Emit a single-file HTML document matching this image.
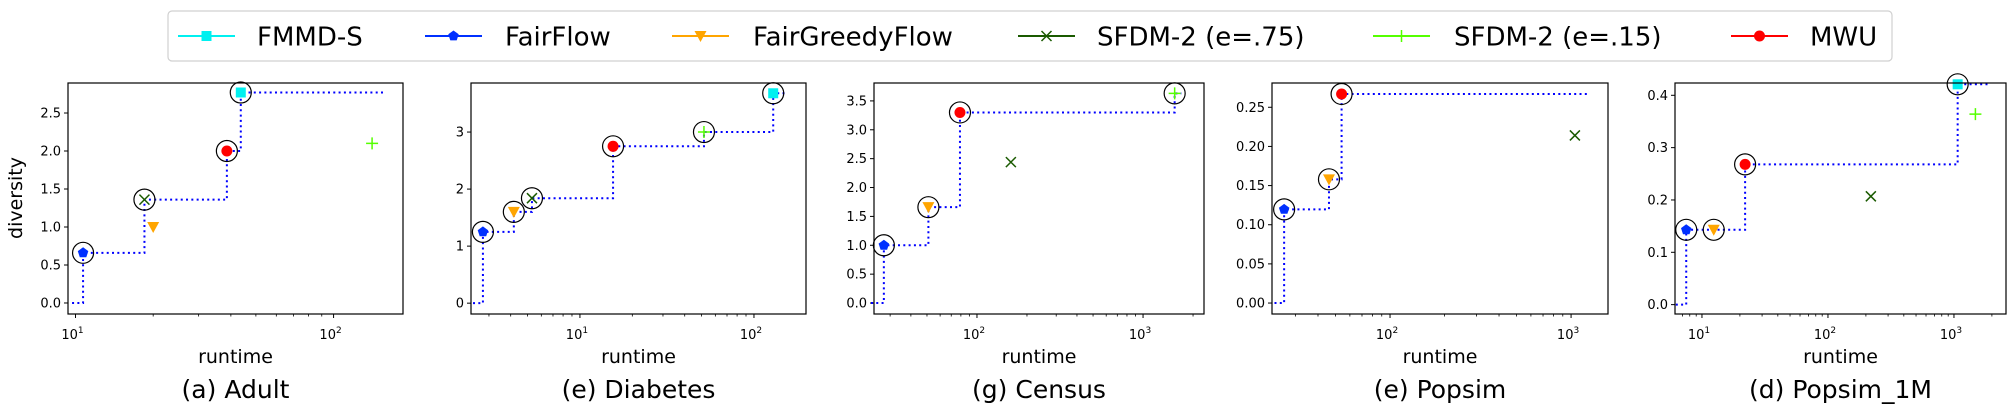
<!DOCTYPE html>
<html><head><meta charset="utf-8">
<style>
html,body{margin:0;padding:0;background:#fff;}
svg{display:block;font-family:"DejaVu Sans","Liberation Sans",sans-serif;}
</style></head>
<body>
<svg id="chart" width="2014" height="415" viewBox="0 0 2014 415" xmlns="http://www.w3.org/2000/svg">
<g id="legend">
  <rect x="168" y="11" width="1724" height="50" rx="4" fill="#fff" stroke="#d0d0d0" stroke-width="1.2"/>
</g>
</svg>
<script>
const methods = ["FMMD-S","FairFlow","FairGreedyFlow","SFDM-2 (e=.75)","SFDM-2 (e=.15)","MWU"];
const colors = ["#00f0f0","#0030ff","#ffa500","#1a5a00","#55ff00","#ff0000"];
const titles = ["(a) Adult","(e) Diabetes","(g) Census","(e) Popsim","(d) Popsim_1M"];
// runtime per method per panel (null = not shown)
const runtimeAdult    = [43.7, 10.7, 20, 18.5, 141, 38.6];
const diversityAdult  = [2.77, 0.66, 1.0, 1.36, 2.1, 2.0];
const runtimeDiab     = [129, 2.77, 4.17, 5.3, 51.6, 15.5];
const diversityDiab   = [3.68, 1.25, 1.6, 1.84, 3.0, 2.75];
const runtimeCensus   = [null, 27.5, 51, 160, 1550, 79];
const diversityCensus = [null, 1.0, 1.66, 2.44, 3.63, 3.3];
const runtimePop      = [null, 26, 46, 1050, null, 54];
const diversityPop    = [null, 0.1196, 0.158, 0.214, null, 0.267];
const runtimePop1M    = [1070, 7.5, 12.4, 219, 1480, 22];
const diversityPop1M  = [0.421, 0.143, 0.143, 0.207, 0.364, 0.268];
// indices of circled frontier points, in runtime order
const frontierAdult  = [1,3,5,0];
const frontierDiab   = [1,2,3,5,4,0];
const frontierCensus = [1,2,5,4];
const frontierPop    = [1,2,5];
const frontierPop1M  = [1,2,5,0];
const lineStartEnd = [[9.7,160],[2.43,152],[23,1700],[23,1230],[6.2,1860]];
const yTicksAll = [[0,0.5,1,1.5,2,2.5],[0,1,2,3],[0,0.5,1,1.5,2,2.5,3,3.5],[0,0.05,0.1,0.15,0.2,0.25],[0,0.1,0.2,0.3,0.4]];
const yTickDigits = [1,0,1,2,1];
const xTickExps = [[1,2],[1,2],[2,3],[2,3],[1,2,3]];

const panels = [
 {L:68,R:403,xmin:0.971,xmax:2.269,ymin:-0.145,ymax:2.895,rt:runtimeAdult,dv:diversityAdult,fr:frontierAdult,slug:"adult"},
 {L:471,R:806,xmin:0.374,xmax:2.299,ymin:-0.19,ymax:3.86,rt:runtimeDiab,dv:diversityDiab,fr:frontierDiab,slug:"diabetes"},
 {L:874,R:1204,xmin:1.380,xmax:3.367,ymin:-0.19,ymax:3.81,rt:runtimeCensus,dv:diversityCensus,fr:frontierCensus,slug:"census"},
 {L:1272,R:1608,xmin:1.348,xmax:3.204,ymin:-0.014,ymax:0.281,rt:runtimePop,dv:diversityPop,fr:frontierPop,slug:"popsim"},
 {L:1675,R:2006,xmin:0.786,xmax:3.413,ymin:-0.0179,ymax:0.4235,rt:runtimePop1M,dv:diversityPop1M,fr:frontierPop1M,slug:"popsim-1m"}
];
const T=83,B=314;
const NS="http://www.w3.org/2000/svg";
const svg=document.getElementById('chart');
function mk(tag,attrs,parent){const e=document.createElementNS(NS,tag);for(const k in attrs)e.setAttribute(k,attrs[k]);(parent||svg).appendChild(e);return e;}

function marker(i,cx,cy,parent){
  const c=colors[i];let e;
  if(i===0){e=mk('rect',{x:cx-5,y:cy-5,width:10,height:10,fill:c},parent);}
  else if(i===1){let p=[];for(let k=0;k<5;k++){const a=-Math.PI/2+k*2*Math.PI/5;p.push((cx+5.5*Math.cos(a)).toFixed(1)+','+(cy+5.5*Math.sin(a)).toFixed(1));}e=mk('polygon',{points:p.join(' '),fill:c},parent);}
  else if(i===2){e=mk('polygon',{points:`${cx-6},${cy-5} ${cx+6},${cy-5} ${cx},${cy+6}`,fill:c},parent);}
  else if(i===3){e=mk('path',{d:`M${cx-5},${cy-5}L${cx+5},${cy+5}M${cx-5},${cy+5}L${cx+5},${cy-5}`,stroke:c,'stroke-width':1.5,fill:'none'},parent);}
  else if(i===4){e=mk('path',{d:`M${cx-6},${cy}L${cx+6},${cy}M${cx},${cy-6}L${cx},${cy+6}`,stroke:c,'stroke-width':1.5,fill:'none'},parent);}
  else {e=mk('circle',{cx:cx,cy:cy,r:5.5,fill:c},parent);}
  return e;
}

panels.forEach((p,pi)=>{
  const g=mk('g',{});
  
  
  const X=v=>p.L+(Math.log10(v)-p.xmin)/(p.xmax-p.xmin)*(p.R-p.L);
  const Y=v=>B-(v-p.ymin)/(p.ymax-p.ymin)*(B-T);
  // y ticks
  yTicksAll[pi].forEach(t=>{
    const y=Y(t);
    const tl=mk('line',{x1:p.L-4,x2:p.L,y1:y,y2:y,stroke:'#000','stroke-width':1},g);
    
    
    const tx=mk('text',{x:p.L-7,y:y+4.5,'text-anchor':'end','font-size':13,fill:'#000'},g);
    tx.textContent=t.toFixed(yTickDigits[pi]);
    
    
  });
  // x minor ticks
  for(let d=Math.floor(p.xmin);d<=Math.ceil(p.xmax);d++){
    for(let m=1;m<10;m++){
      const lv=d+Math.log10(m);
      if(lv<p.xmin||lv>p.xmax)continue;
      const x=p.L+(lv-p.xmin)/(p.xmax-p.xmin)*(p.R-p.L);
      const ml=mk('line',{x1:x,x2:x,y1:B,y2:B+(m===1?4:2.5),stroke:'#000','stroke-width':m===1?1:0.8},g);
      
      
    }
  }
  xTickExps[pi].forEach(ex=>{
    const x=X(Math.pow(10,ex));
    const tx=mk('text',{x:x-3,y:B+25,'text-anchor':'middle','font-size':13,fill:'#000'},g);
    
    
    const t1=mk('tspan',{},tx);t1.textContent='10';
    const t2=mk('tspan',{dy:-6,'font-size':9},tx);t2.textContent=String(ex);
  });
  // step frontier line
  const fr=p.fr;let d=`M${X(lineStartEnd[pi][0])},${Y(0)}`;
  let prevY=0;
  fr.forEach(i=>{d+=` L${X(p.rt[i])},${Y(prevY)} L${X(p.rt[i])},${Y(p.dv[i])}`;prevY=p.dv[i];});
  d+=` L${X(lineStartEnd[pi][1])},${Y(prevY)}`;
  const ln=mk('path',{d:d,fill:'none',stroke:'#0000ff','stroke-width':2,'stroke-dasharray':'2,3.3'},g);
  
  
  // markers
  p.rt.forEach((r,i)=>{
    if(r===null)return;
    const m=marker(i,X(r),Y(p.dv[i]),g);
    
    
  });
  fr.forEach(i=>{
    const c=mk('circle',{cx:X(p.rt[i]),cy:Y(p.dv[i]),r:10.5,fill:'none',stroke:'#000','stroke-width':1.2},g);
    
    
  });
  // frame
  const fm=mk('rect',{x:p.L,y:T,width:p.R-p.L,height:B-T,fill:'none',stroke:'#000','stroke-width':1.2},g);
  
  
  const cx=(p.L+p.R)/2;
  const xl=mk('text',{x:cx,y:363,'text-anchor':'middle','font-size':19,fill:'#000'},g);
  xl.textContent='runtime';
  
  
  const tt=mk('text',{x:cx,y:398,'text-anchor':'middle','font-size':25,fill:'#000'},g);
  tt.textContent=titles[pi];
  
  
});
const yl=mk('text',{x:0,y:0,'text-anchor':'middle','font-size':19,fill:'#000',transform:'translate(22,198) rotate(-90)'});
yl.textContent='diversity';



// legend
const legG=document.getElementById('legend');
const legLineX=[178,425,672,1018,1373,1731];
const legTextX=[257,505,753,1097,1454,1810];
methods.forEach((m,i)=>{
  const eg=mk('g',{},legG);
  
  
  const l=mk('line',{x1:legLineX[i],x2:legLineX[i]+57,y1:36,y2:36,stroke:colors[i],'stroke-width':2},eg);
  marker(i,legLineX[i]+28.5,36,eg);
  const t=mk('text',{x:legTextX[i],y:45.5,'font-size':26,fill:'#000'},eg);
  t.textContent=m;
});
</script>
</body></html>
